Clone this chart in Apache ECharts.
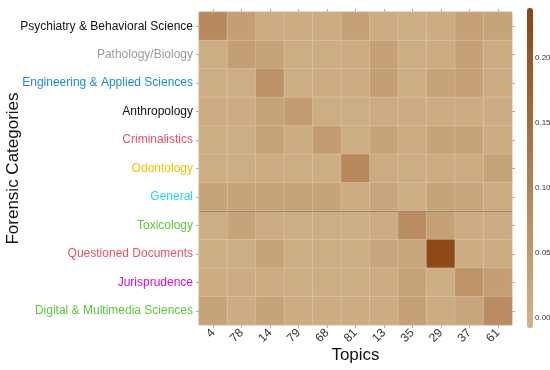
<!DOCTYPE html>
<html><head><meta charset="utf-8">
<script src="https://cdn.jsdelivr.net/npm/echarts@6/dist/echarts.min.js"></script>
<style>html,body{margin:0;padding:0;background:#fff}#c{width:550px;height:370px}</style>
</head><body><div id="c"></div>
<script>
var topics = ['4','78','14','79','68','81','13','35','29','37','61'];
var categories = ['Psychiatry & Behavioral Science','Pathology/Biology','Engineering & Applied Sciences','Anthropology','Criminalistics','Odontology','General','Toxicology','Questioned Documents','Jurisprudence','Digital & Multimedia Sciences'];
var categoryColors = ['#111111','#9a9a9a','#1e88e5','#111111','#e8506c','#f5c000','#22d6e8','#5cc83c','#e8506c','#cc10cc','#5cc83c'];
var colorbarTicks = [0, 0.05, 0.10, 0.15, 0.20];

var psychiatry    = [0.085,0.040,0.010,0.010,0.010,0.035,0.010,0.008,0.010,0.035,0.030];
var pathology     = [0.008,0.040,0.030,0.008,0.008,0.010,0.035,0.008,0.010,0.035,0.010];
var engineering   = [0.008,0.008,0.070,0.008,0.010,0.010,0.040,0.008,0.030,0.035,0.010];
var anthropology  = [0.010,0.010,0.030,0.045,0.008,0.008,0.012,0.010,0.010,0.010,0.010];
var criminalistics= [0.008,0.008,0.030,0.010,0.045,0.008,0.030,0.010,0.030,0.030,0.010];
var odontology    = [0.008,0.008,0.010,0.008,0.008,0.090,0.010,0.008,0.010,0.010,0.030];
var general       = [0.030,0.030,0.030,0.030,0.030,0.010,0.025,0.008,0.030,0.025,0.012];
var toxicology    = [0.008,0.030,0.010,0.008,0.008,0.008,0.010,0.080,0.035,0.010,0.010];
var questioned    = [0.008,0.008,0.030,0.008,0.008,0.008,0.025,0.025,0.230,0.010,0.010];
var jurisprudence = [0.010,0.010,0.010,0.008,0.008,0.008,0.010,0.030,0.008,0.065,0.040];
var digital       = [0.030,0.010,0.030,0.010,0.010,0.010,0.010,0.035,0.010,0.025,0.080];
var rows = [psychiatry,pathology,engineering,anthropology,criminalistics,odontology,general,toxicology,questioned,jurisprudence,digital];
var dividerAfterRow = 4; // boundary (counted from bottom) between General and Toxicology
var colorMin = -0.008, colorMax = 0.238;

var data = [];
rows.forEach(function(r, i){ r.forEach(function(v, j){ data.push([j, i, v]); }); });

var FONT = 'Liberation Sans, Arial, sans-serif';
var tickStyle = {show:true, alignWithLabel:true, length:3, lineStyle:{color:'#aaaaaa'}};
var chart = echarts.init(document.getElementById('c'));
chart.setOption({
  animation:false,
  textStyle:{fontFamily:FONT},
  grid:[
    {left:199, right:38, top:12, bottom:45, show:true, borderColor:'#cccccc', borderWidth:1, backgroundColor:'transparent', outerBoundsMode:'none', containLabel:false},
    {left:527, width:6, top:8, height:320, outerBoundsMode:'none', containLabel:false}
  ],
  xAxis:[
    {type:'category', data:topics, gridIndex:0, position:'bottom',
     axisLine:{show:false}, axisTick:tickStyle, splitLine:{show:false},
     axisLabel:{rotate:45, fontSize:12, color:'#333', margin:6, fontFamily:FONT},
     name:'Topics', nameLocation:'middle', nameGap:22, nameMoveOverlap:false,
     nameTextStyle:{fontSize:17, color:'#111', fontFamily:FONT}},
    {type:'category', data:topics, gridIndex:0, position:'top',
     axisLine:{show:false}, axisTick:tickStyle, axisLabel:{show:false}, splitLine:{show:false}},
    {type:'value', gridIndex:1, show:false}
  ],
  yAxis:[
    {type:'category', data:categories, gridIndex:0, inverse:true, position:'left',
     axisLine:{show:false}, axisTick:tickStyle, splitLine:{show:false},
     axisLabel:{fontSize:12, margin:6, fontFamily:FONT,
       color:function(v, idx){ return categoryColors[categories.indexOf(v)]; }},
     name:'Forensic Categories', nameLocation:'middle', nameGap:177, nameRotate:90, nameMoveOverlap:false,
     nameTextStyle:{fontSize:17, color:'#111', fontFamily:FONT}},
    {type:'category', data:categories, gridIndex:0, inverse:true, position:'right',
     axisLine:{show:false}, axisTick:tickStyle, axisLabel:{show:false}, splitLine:{show:false}},
    {type:'value', gridIndex:0, min:0, max:categories.length, show:false},
    {type:'value', gridIndex:1, min:colorMin, max:colorMax, position:'right',
     axisLine:{show:false}, splitLine:{show:false},
     axisTick:{show:true, length:3, lineStyle:{color:'#aaaaaa'}, customValues:colorbarTicks},
     axisLabel:{fontSize:8, color:'#333', margin:2, fontFamily:FONT, customValues:colorbarTicks,
       formatter:function(v){ return v.toFixed(2); }}}
  ],
  visualMap:{type:'continuous', min:colorMin, max:colorMax, seriesIndex:0, calculable:false,
    orient:'vertical', left:527, top:8, itemWidth:6, itemHeight:320, padding:0,
    inRange:{color:['#d2b48c','#8b4513']}},
  series:[
    {type:'heatmap', xAxisIndex:0, yAxisIndex:0, data:data,
     itemStyle:{borderColor:'rgba(255,255,255,0.18)', borderWidth:1}},
    {type:'line', xAxisIndex:0, yAxisIndex:2, data:[], silent:true,
     markLine:{symbol:'none', silent:true, label:{show:false},
       lineStyle:{color:'#9c8a74', width:1, type:'solid'},
       data:[{yAxis:dividerAfterRow}]}},
    {type:'line', xAxisIndex:2, yAxisIndex:3, data:[], silent:true}
  ]
});
</script></body></html>
